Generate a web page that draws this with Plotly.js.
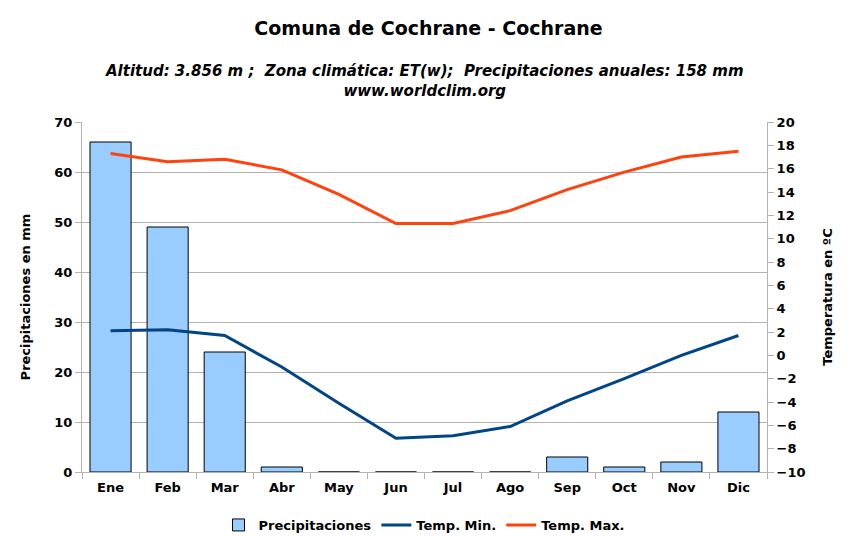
<!DOCTYPE html>
<html>
<head>
<meta charset="utf-8">
<script src="https://cdn.plot.ly/plotly-3.0.1.min.js"></script>
<style>html,body{margin:0;padding:0;background:#fff;}#chart{width:857px;height:537px;}</style>
</head>
<body>
<div id="chart"></div>
<script>
const months = ["Ene","Feb","Mar","Abr","May","Jun","Jul","Ago","Sep","Oct","Nov","Dic"];
const precip = [66,49,24,1,0,0,0,0,3,1,2,12];
const tmin = [2.1,2.2,1.7,-1.0,-4.1,-7.1,-6.9,-6.1,-3.9,-2.0,0.0,1.7];
const tmax = [17.3,16.6,16.8,15.9,13.8,11.3,11.3,12.4,14.2,15.7,17.0,17.5];

const F = "DejaVu Sans";
const traces = [
  {type:"bar", name:"Precipitaciones", x:months, y:precip,
   marker:{color:"#99ccff", line:{color:"#000000", width:1}}, yaxis:"y"},
  {type:"scatter", mode:"lines", name:"Temp. Min.", x:months, y:tmin,
   line:{color:"#004586", width:3}, yaxis:"y2"},
  {type:"scatter", mode:"lines", name:"Temp. Max.", x:months, y:tmax,
   line:{color:"#ff420e", width:3}, yaxis:"y2"}
];
const layout = {
  width:857, height:537,
  margin:{l:82, r:90, t:122, b:65},
  paper_bgcolor:"#ffffff", plot_bgcolor:"#ffffff",
  font:{family:F, color:"#000000"},
  title:{text:"Comuna de Cochrane - Cochrane", x:0.5, xanchor:"center", yref:"container", y:1-28/537, yanchor:"middle",
         font:{family:F, size:19, weight:"bold", color:"#000"}},
  annotations:[
    {text:"<b><i>Altitud: 3.856 m ;  Zona climática: ET(w);  Precipitaciones anuales: 158 mm</i></b><br><b><i>www.worldclim.org</i></b>",
     xref:"paper", yref:"paper", x:0.5, y:1.0, yshift:41, xanchor:"center", yanchor:"middle",
     showarrow:false, font:{family:F, size:15, color:"#000"}}
  ],
  bargap:0.28,
  showlegend:true,
  legend:{orientation:"h", x:0.5, xanchor:"center", yref:"container", y:1-525/537, yanchor:"middle",
          font:{family:F, size:13, weight:"bold"}},
  xaxis:{type:"category", tickson:"boundaries", ticks:"outside", ticklen:6, tickcolor:"#b3b3b3",
         showline:true, linecolor:"#b3b3b3", linewidth:1, showgrid:false, ticklabelstandoff:3,
         tickfont:{family:F, size:13, weight:"bold"}},
  yaxis:{range:[0,70], dtick:10, ticks:"outside", ticklen:6, tickcolor:"#b3b3b3",
         showline:true, linecolor:"#b3b3b3", showgrid:true, gridcolor:"#b3b3b3", zeroline:false,
         tickfont:{family:F, size:13, weight:"bold"},
         title:{text:"Precipitaciones en mm", standoff:20, font:{family:F, size:13, weight:"bold", color:"#000"}}},
  yaxis2:{range:[-10,20], dtick:2, overlaying:"y", side:"right", ticks:"outside", ticklen:6, tickcolor:"#b3b3b3",
          showline:true, linecolor:"#b3b3b3", showgrid:false, zeroline:false,
          tickfont:{family:F, size:13, weight:"bold"},
          title:{text:"Temperatura en ºC", standoff:18, font:{family:F, size:13, weight:"bold", color:"#000"}}}
};
Plotly.newPlot("chart", traces, layout, {displayModeBar:false, staticPlot:true});
</script>
</body>
</html>
